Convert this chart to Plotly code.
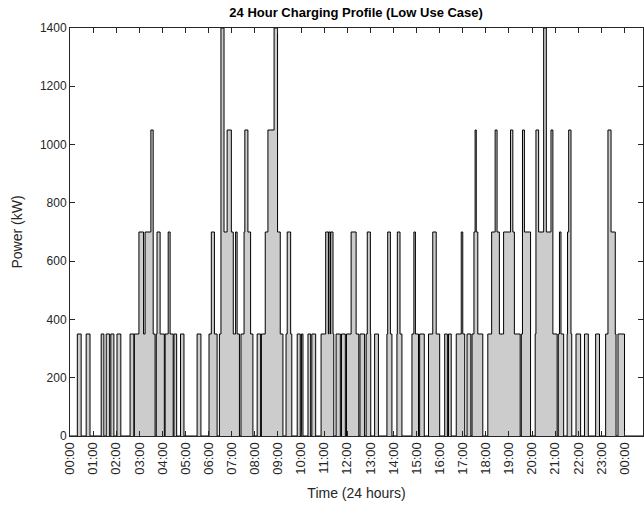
import plotly.graph_objects as go

# Charging segments: start minute, end minute, power level (kW)
seg_start = [19, 42, 81, 94, 106, 122, 156, 167, 179, 191, 195, 210, 216, 224, 226, 234,
             247, 255, 260, 270, 287, 330, 361, 367, 375, 388, 392, 400, 408, 419, 424, 430,
             434, 444, 452, 454, 462, 469, 486, 497, 507, 514, 530, 539, 546, 561, 564, 573,
             590, 601, 618, 628, 652, 664, 671, 672, 676, 677, 683, 691, 705, 718, 730, 743,
             753, 769, 772, 780, 791, 823, 825, 832, 849, 850, 857, 888, 893, 897, 908, 931,
             942, 951, 973, 983, 1003, 1016, 1020, 1031, 1044, 1049, 1052, 1055, 1059, 1085,
             1095, 1104, 1109, 1115, 1126, 1144, 1150, 1154, 1172, 1175, 1180, 1208, 1210,
             1217, 1230, 1237, 1249, 1254, 1268, 1271, 1275, 1291, 1292, 1295, 1301, 1314,
             1336, 1365, 1391, 1397, 1405, 1416, 1423]
seg_end = [29, 52, 88, 103, 114, 132, 166, 179, 191, 195, 210, 216, 221, 226, 234, 245,
           255, 260, 268, 277, 296, 340, 367, 375, 382, 392, 400, 408, 419, 424, 430, 434,
           440, 452, 454, 462, 469, 475, 495, 507, 514, 530, 539, 546, 553, 564, 573, 576,
           598, 605, 625, 638, 664, 671, 672, 676, 677, 683, 685, 702, 715, 730, 743, 750,
           765, 772, 780, 781, 801, 825, 832, 836, 850, 857, 862, 893, 897, 905, 920, 942,
           951, 960, 980, 990, 1016, 1020, 1025, 1041, 1049, 1052, 1055, 1059, 1072, 1095,
           1104, 1109, 1115, 1126, 1144, 1150, 1154, 1169, 1175, 1180, 1196, 1210, 1217,
           1230, 1237, 1249, 1254, 1265, 1271, 1275, 1282, 1292, 1295, 1301, 1303, 1326,
           1346, 1375, 1397, 1405, 1416, 1418, 1440]
seg_kw = [350, 350, 350, 350, 350, 350, 350, 350, 700, 350, 700, 1050, 350, 350, 700, 350,
          350, 700, 350, 350, 350, 350, 350, 700, 350, 350, 1400, 700, 1050, 700, 350, 700,
          350, 350, 700, 1050, 700, 350, 350, 350, 700, 1050, 1400, 700, 350, 350, 700, 350,
          350, 350, 350, 350, 350, 700, 350, 700, 350, 700, 350, 350, 350, 350, 700, 350,
          350, 350, 700, 350, 350, 350, 700, 350, 350, 700, 350, 350, 700, 350, 350, 350,
          700, 350, 350, 350, 350, 700, 350, 350, 350, 700, 1050, 700, 350, 350,
          700, 1050, 700, 350, 700, 1050, 700, 350, 350, 1050, 700, 350, 1050,
          700, 1400, 700, 1050, 350, 350, 700, 350, 350, 700, 1050, 350, 350,
          350, 350, 350, 1050, 700, 350, 350]

tick_minutes = list(range(0, 1441, 60))
tick_labels = [f"{h % 24:02d}:00" for h in range(25)]

# Build step series from the segments
xs, ys = [0], [0]
for i, (s, e, k) in enumerate(zip(seg_start, seg_end, seg_kw)):
    xs.append(s)
    ys.append(k)
    nxt = seg_start[i + 1] if i + 1 < len(seg_start) else None
    if nxt is None or nxt > e:
        xs.append(e)
        ys.append(0)
xs.append(1488)
ys.append(0)

fig = go.Figure()
fig.add_trace(go.Scatter(
    x=xs, y=ys, mode="lines", line_shape="hv",
    fill="tozeroy", fillcolor="#cccccc",
    line=dict(color="black", width=1),
    showlegend=False, hoverinfo="skip"))

font_family = "Liberation Sans, Arial, sans-serif"
fig.update_layout(
    width=644, height=508,
    margin=dict(l=70, r=1, t=28, b=72),
    plot_bgcolor="white", paper_bgcolor="white",
    font=dict(family=font_family, size=12, color="#262626"),
    title=dict(text="<b>24 Hour Charging Profile (Low Use Case)</b>",
               x=0.553, xanchor="center", y=0.976, yanchor="middle",
               font=dict(size=13, color="black")),
)
fig.update_xaxes(
    range=[0, 1488], tickvals=tick_minutes, ticktext=tick_labels,
    tickangle=-90, ticks="inside", ticklen=5, tickcolor="#262626",
    showline=True, linecolor="#262626", linewidth=1, mirror="ticks",
    showgrid=False, zeroline=False, automargin=False,
    title=dict(text="Time (24 hours)", font=dict(size=14), standoff=14),
    tickfont=dict(size=13),
)
fig.update_yaxes(
    range=[0, 1400], tickvals=list(range(0, 1401, 200)),
    ticks="inside", ticklen=5, tickcolor="#262626",
    showline=True, linecolor="#262626", linewidth=1, mirror="ticks",
    showgrid=False, zeroline=False, automargin=False,
    title=dict(text="Power (kW)", font=dict(size=14), standoff=13),
    tickfont=dict(size=12),
)

fig.write_html("out.html", config={"displayModeBar": False, "staticPlot": True},
               post_script="document.body.style.margin='0';")
